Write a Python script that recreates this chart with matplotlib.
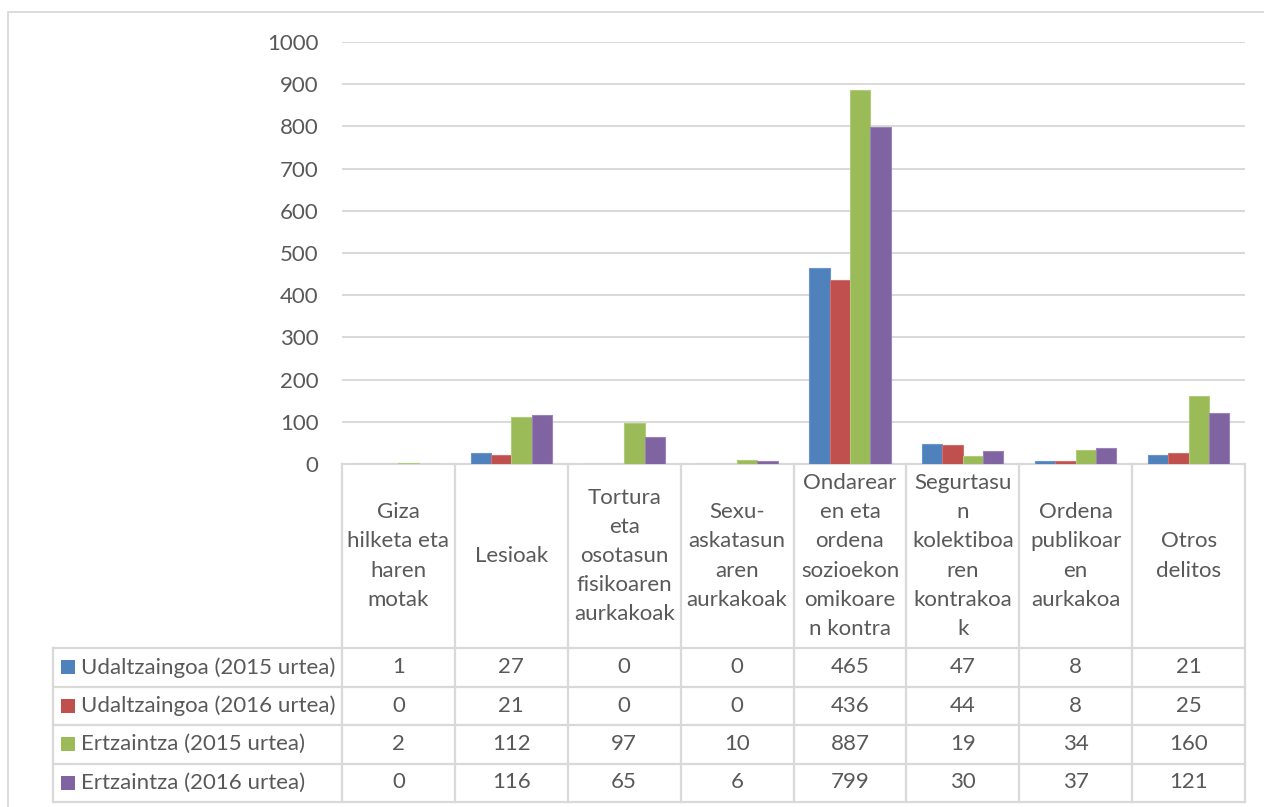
import matplotlib
matplotlib.use("Agg")
import matplotlib.pyplot as plt
import matplotlib.transforms as mtransforms
from matplotlib.patches import Rectangle
import numpy as np

categories = [
    "Giza\nhilketa eta\nharen\nmotak",
    "Lesioak",
    "Tortura\neta\nosotasun\nfisikoaren\naurkakoak",
    "Sexu-\naskatasun\naren\naurkakoak",
    "Ondarear\nen eta\nordena\nsozioekon\nomikoare\nn kontra",
    "Segurtasu\nn\nkolektiboa\nren\nkontrakoa\nk",
    "Ordena\npublikoar\nen\naurkakoa",
    "Otros\ndelitos",
]
series_names = [
    "Udaltzaingoa (2015 urtea)",
    "Udaltzaingoa (2016 urtea)",
    "Ertzaintza (2015 urtea)",
    "Ertzaintza (2016 urtea)",
]
udal_2015 = [1, 27, 0, 0, 465, 47, 8, 21]
udal_2016 = [0, 21, 0, 0, 436, 44, 8, 25]
ertz_2015 = [2, 112, 97, 10, 887, 19, 34, 160]
ertz_2016 = [0, 116, 65, 6, 799, 30, 37, 121]
colors = ["#4F81BD", "#C0504D", "#9BBB59", "#8064A2"]
edges = ["#6A95CC", "#CF716E", "#B0CC7A", "#9A83B8"]
yticks = [0, 100, 200, 300, 400, 500, 600, 700, 800, 900, 1000]

W, H = 1264, 807
TXT = "#595959"
GRID = "#D9D9D9"
FS = 16
plt.rcParams['font.family'] = ['Lato', 'DejaVu Sans']

fig = plt.figure(figsize=(W / 100, H / 100), dpi=100)

# outer chart border
fig.patches.append(Rectangle((8 / W, -0.01), 1.0, 1 - 12 / H + 0.01, transform=fig.transFigure,
                             fill=False, edgecolor=GRID, linewidth=1.3))

ax = fig.add_axes([342 / W, 1 - 464 / H, (1245 - 342) / W, (464 - 42) / H])
all_series = [udal_2015, udal_2016, ertz_2015, ertz_2016]
n = len(categories)
x = np.arange(n) + 0.5
bw = 0.18
for i, vals in enumerate(all_series):
    ax.bar(x + (i - 1.5) * bw, vals, bw, color=colors[i], edgecolor=edges[i], linewidth=0.8, zorder=3)

ax.set_xlim(0, n)
ax.set_ylim(0, 1000)
ax.set_yticks(yticks)
ax.set_yticklabels([str(t) for t in yticks], fontsize=FS, color=TXT)
ax.tick_params(axis='y', length=0, pad=17)
ax.set_xticks([])
ax.grid(axis='y', color=GRID, linewidth=1.4, zorder=0)
for s in ax.spines.values():
    s.set_visible(False)

# data table below the plot
tr = mtransforms.blended_transform_factory(ax.transData, fig.transFigure)
px_per_unit = (1245 - 342) / n
left_x = -(342 - 53) / px_per_unit

def fy(py):
    return 1 - py / H

row_y = [464, 648, 686.5, 725, 763.5, 801.5]
line_kw = dict(color=GRID, linewidth=1.6, transform=tr, clip_on=False)

# horizontal lines
ax.plot([0, n], [fy(464), fy(464)], **line_kw)
for ry in row_y[1:]:
    ax.plot([left_x, n], [fy(ry), fy(ry)], **line_kw)
# vertical lines
for c in range(n + 1):
    ax.plot([c, c], [fy(464), fy(801.5)], **line_kw)
ax.plot([left_x, left_x], [fy(648), fy(801.5)], **line_kw)

# category headers
for c, lab in enumerate(categories):
    ax.text(c + 0.5, fy(556), lab, transform=tr, ha='center', va='center',
            fontsize=FS, color=TXT, linespacing=1.57, clip_on=False)

# data rows
for r, vals in enumerate(all_series):
    cy = fy((row_y[r + 1] + row_y[r + 2]) / 2)
    for c, v in enumerate(vals):
        ax.text(c + 0.5, cy, str(v), transform=tr, ha='center', va='center',
                fontsize=FS, color=TXT, clip_on=False)
    fig.patches.append(Rectangle((61 / W, cy - 7 / H), 14 / W, 14 / H, transform=fig.transFigure,
                                 facecolor=colors[r], edgecolor='none'))
    fig.text(81 / W, cy, series_names[r], ha='left', va='center', fontsize=FS, color=TXT)

fig.savefig("out.png", dpi=100)
